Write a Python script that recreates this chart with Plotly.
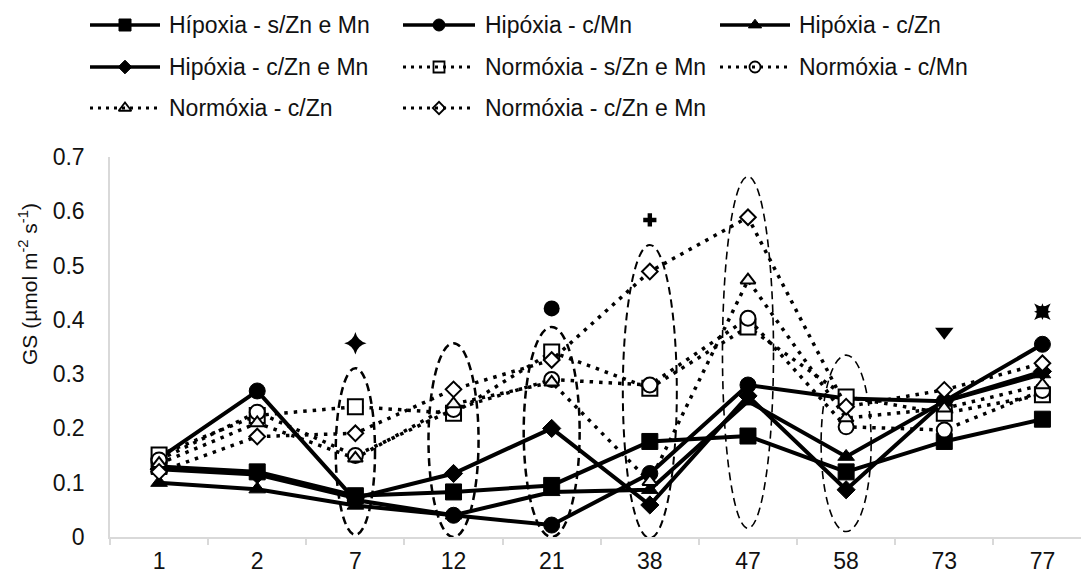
import plotly.graph_objects as go

# ---------------- data ----------------
days = ["1", "2", "7", "12", "21", "38", "47", "58", "73", "77"]

hip_sZnMn = [0.130, 0.120, 0.076, 0.083, 0.095, 0.176, 0.186, 0.120, 0.176, 0.217]
hip_cMn   = [0.145, 0.269, 0.068, 0.040, 0.022, 0.117, 0.280, 0.255, 0.250, 0.355]
hip_cZn   = [0.100, 0.088, 0.058, 0.040, 0.083, 0.087, 0.250, 0.148, 0.250, 0.300]
hip_cZnMn = [0.125, 0.115, 0.072, 0.117, 0.200, 0.059, 0.260, 0.087, 0.250, 0.305]
nor_sZnMn = [0.151, 0.224, 0.240, 0.228, 0.341, 0.274, 0.387, 0.258, 0.228, 0.262]
nor_cMn   = [0.142, 0.230, 0.150, 0.235, 0.290, 0.280, 0.403, 0.203, 0.197, 0.270]
nor_cZn   = [0.135, 0.210, 0.145, 0.245, 0.285, 0.102, 0.473, 0.219, 0.237, 0.280]
nor_cZnMn = [0.120, 0.185, 0.191, 0.272, 0.326, 0.489, 0.589, 0.240, 0.271, 0.320]

series_names = [
    "Hípoxia - s/Zn e Mn", "Hipóxia - c/Mn", "Hipóxia - c/Zn", "Hipóxia - c/Zn e Mn",
    "Normóxia - s/Zn e Mn", "Normóxia - c/Mn", "Normóxia - c/Zn", "Normóxia - c/Zn e Mn",
]
series_values = [hip_sZnMn, hip_cMn, hip_cZn, hip_cZnMn,
                 nor_sZnMn, nor_cMn, nor_cZn, nor_cZnMn]

# significance symbols above points
sig_days = ["7", "21", "38", "47", "73", "77"]
sig_vals = [0.357, 0.421, 0.584, 0.711, 0.378, 0.415]
sig_extra_days = ["77"]
sig_extra_vals = [0.415]

# dashed ellipses grouping points
ell_days = ["7", "12", "21", "38", "47", "58"]
ell_top = [0.311, 0.357, 0.387, 0.538, 0.664, 0.335]
ell_bottom = [0.004, 0.0, 0.0, -0.002, 0.016, 0.010]

# ---------------- styles ----------------
W, H = 1081, 572
FONT = "Liberation Sans, Arial, sans-serif"
TXT = "#111111"
AXC = "#d9d9d9"

styles = [
    dict(sym="square", size=16, fill="black", dash="solid", lw=4, lsym=12),
    dict(sym="circle", size=16, fill="black", dash="solid", lw=4, lsym=12),
    dict(sym="triangle-up", size=14.5, fill="black", dash="solid", lw=4, lsym=11.5),
    dict(sym="diamond", size=14, fill="black", dash="solid", lw=4, lsym=10.5),
    dict(sym="square", size=15, fill="white", dash="3.5px,6px", lw=3.5, lsym=11),
    dict(sym="circle", size=15, fill="white", dash="3.5px,6px", lw=3.5, lsym=11),
    dict(sym="triangle-up", size=13, fill="#f4f4f4", dash="3.5px,6px", lw=3.5, lsym=11),
    dict(sym="diamond", size=12, fill="white", dash="3.5px,6px", lw=3.5, lsym=9.5),
]

fig = go.Figure()

for name, vals, st in zip(series_names, series_values, styles):
    filled = st["fill"] == "black"
    fig.add_trace(go.Scatter(
        x=days, y=vals, name=name, mode="lines+markers", showlegend=False,
        line=dict(color="black", width=st["lw"], dash=st["dash"]),
        marker=dict(symbol=st["sym"], size=st["size"], color=st["fill"], opacity=1,
                    line=dict(color="black", width=1 if filled else 2)),
        cliponaxis=False,
    ))

# significance markers
fig.add_trace(go.Scatter(
    x=sig_days, y=sig_vals, mode="markers", showlegend=False, cliponaxis=False,
    marker=dict(symbol=["star-diamond", "circle", "cross", "diamond", "triangle-down", "star-square"],
                size=[16, 16, 11, 14, 16, 15], color="black", opacity=1,
                line=dict(width=0)),
))
fig.add_trace(go.Scatter(
    x=sig_extra_days, y=sig_extra_vals, mode="markers", showlegend=False, cliponaxis=False,
    marker=dict(symbol="star-diamond", size=12, color="black", opacity=1, line=dict(width=0)),
))

# dashed ellipses
ell_halfw = [0.20, 0.255, 0.285, 0.275, 0.26, 0.255]
ell_lw = [2.5, 2.5, 2.5, 2.0, 1.6, 1.6]
for d, top, bot, hw, lw in zip(ell_days, ell_top, ell_bottom, ell_halfw, ell_lw):
    c = days.index(d)
    fig.add_shape(type="circle", xref="x", yref="y",
                  x0=c - hw, x1=c + hw, y0=bot, y1=top,
                  line=dict(color="black", width=lw, dash="8px,5px"),
                  fillcolor="rgba(0,0,0,0)", layer="above")

# ---------------- custom legend (pixel overlay axes) ----------------
col_line_x = [(90, 160), (403, 475), (720, 790)]
col_text_x = [167, 483, 797]
row_y = [25, 67, 108]
slots = [(0, 0), (1, 0), (2, 0), (0, 1), (1, 1), (2, 1), (0, 2), (1, 2)]

for name, st, (c, r) in zip(series_names, styles, slots):
    x0, x1 = col_line_x[c]
    y = row_y[r]
    solid = st["dash"] == "solid"
    fig.add_shape(type="line", xref="x2", yref="y2", x0=x0, x1=x1, y0=y, y1=y,
                  line=dict(color="black", width=3.5 if solid else 3,
                            dash="solid" if solid else "3px,5px"))
    filled = st["fill"] == "black"
    fig.add_trace(go.Scatter(
        x=[(x0 + x1) / 2], y=[y], xaxis="x2", yaxis="y2", mode="markers",
        showlegend=False, hoverinfo="skip", cliponaxis=False,
        marker=dict(symbol=st["sym"], size=st["lsym"], color=st["fill"], opacity=1,
                    line=dict(color="black", width=1 if filled else 1.8)),
    ))
    fig.add_annotation(xref="x2", yref="y2", x=col_text_x[c], y=y, text=name,
                       showarrow=False, xanchor="left", yanchor="middle",
                       font=dict(family=FONT, size=23, color=TXT))

# y axis title
fig.add_annotation(xref="paper", yref="paper", x=28 / W, y=1 - 284 / H,
                   text="GS (µmol m<sup>-2</sup> s<sup>-1</sup>)", textangle=-90,
                   showarrow=False, xanchor="center", yanchor="middle",
                   font=dict(family=FONT, size=21, color=TXT))

fig.update_layout(
    width=W, height=H,
    margin=dict(l=0, r=0, t=0, b=0, autoexpand=False),
    paper_bgcolor="white", plot_bgcolor="rgba(0,0,0,0)",
    font=dict(family=FONT, size=23, color=TXT),
    showlegend=False,
    xaxis=dict(type="category", domain=[110 / W, 1.0], range=[-0.5, 9.393],
               automargin=False,
               showgrid=False, zeroline=False, showline=True, linecolor=AXC, linewidth=1.5,
               ticks="outside", tickson="boundaries", ticklen=6, tickcolor=AXC, tickwidth=1.5,
               tickfont=dict(family=FONT, size=23, color=TXT), ticklabelstandoff=3,
               fixedrange=True),
    yaxis=dict(domain=[35 / H, 415 / H], range=[0, 0.7], dtick=0.1,
               automargin=False,
               showgrid=False, zeroline=False, showline=True, linecolor=AXC, linewidth=1.5,
               ticks="", tickfont=dict(family=FONT, size=23, color=TXT),
               ticklabelstandoff=19, fixedrange=True),
    xaxis2=dict(domain=[0, 1], range=[0, W], visible=False, anchor="y2",
                automargin=False, fixedrange=True),
    yaxis2=dict(domain=[0, 1], range=[H, 0], visible=False, anchor="x2",
                automargin=False, fixedrange=True),
)

fig.write_html("out.html")
